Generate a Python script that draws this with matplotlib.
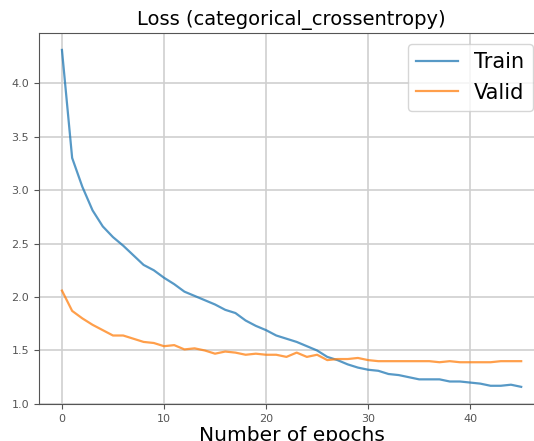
import matplotlib
matplotlib.use("Agg")
import matplotlib.pyplot as plt

# ── Data ────────────────────────────────────────────────────────────────────
epochs = list(range(46))
train_loss = [
    4.31, 3.30, 3.03, 2.81, 2.66, 2.56, 2.48, 2.39, 2.30, 2.25,
    2.18, 2.12, 2.05, 2.01, 1.97, 1.93, 1.88, 1.85, 1.78, 1.73,
    1.69, 1.64, 1.61, 1.58, 1.54, 1.50, 1.44, 1.41, 1.37, 1.34,
    1.32, 1.31, 1.28, 1.27, 1.25, 1.23, 1.23, 1.23, 1.21, 1.21,
    1.20, 1.19, 1.17, 1.17, 1.18, 1.16,
]
valid_loss = [
    2.06, 1.87, 1.80, 1.74, 1.69, 1.64, 1.64, 1.61, 1.58, 1.57,
    1.54, 1.55, 1.51, 1.52, 1.50, 1.47, 1.49, 1.48, 1.46, 1.47,
    1.46, 1.46, 1.44, 1.48, 1.44, 1.46, 1.41, 1.42, 1.42, 1.43,
    1.41, 1.40, 1.40, 1.40, 1.40, 1.40, 1.40, 1.39, 1.40, 1.39,
    1.39, 1.39, 1.39, 1.40, 1.40, 1.40,
]
series_labels = ["Train", "Valid"]

# ── Plot ────────────────────────────────────────────────────────────────────
fig = plt.figure(figsize=(5.34, 4.41), dpi=100)
# axes run past the right edge (reference is cropped there)
ax = fig.add_axes([0.073, 0.084, 0.946, 0.841])

ax.plot(epochs, train_loss, color="C0", alpha=0.75, lw=1.6, label=series_labels[0])
ax.plot(epochs, valid_loss, color="C1", alpha=0.75, lw=1.6, label=series_labels[1])

ax.set_ylim(bottom=1.0)
ax.set_title("Loss (categorical_crossentropy)", fontsize=14)
ax.set_xlabel("Number of epochs", fontsize=14.5, labelpad=2)
ax.tick_params(labelsize=8, colors="#555555")
for sp in ax.spines.values():
    sp.set_color("#555555")
ax.grid(color="#cfcfcf", lw=1.2)

ax.legend(
    loc="upper right",
    bbox_to_anchor=(533 / 534, (441 - 44) / 441),
    bbox_transform=fig.transFigure,
    borderaxespad=0,
    fontsize=15,
)

fig.savefig("out.png", dpi=100)
